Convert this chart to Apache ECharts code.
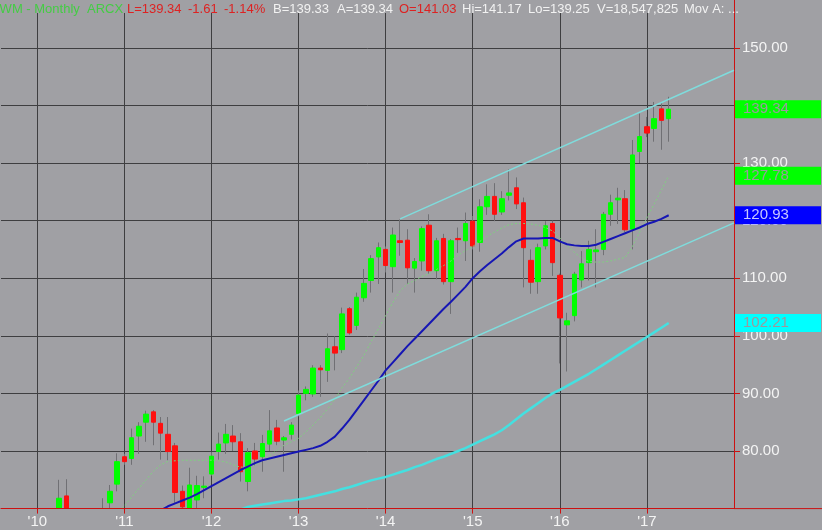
<!DOCTYPE html>
<html>
<head>
<meta charset="utf-8">
<script src="https://cdn.jsdelivr.net/npm/echarts@6/dist/echarts.min.js"></script>
<style>
    html, body { margin: 0; padding: 0; background: #a0a0a4; }
    #chart { width: 822px; height: 530px; }
</style>
</head>
<body>
<div id="chart"></div>
<script>
// Month categories of the time axis (monthly bars)
const axisMonths = [
    "2009-08", "2009-09", "2009-10", "2009-11", "2009-12",
    "2010-01", "2010-02", "2010-03", "2010-04", "2010-05", "2010-06", "2010-07", "2010-08", "2010-09", "2010-10", "2010-11", "2010-12",
    "2011-01", "2011-02", "2011-03", "2011-04", "2011-05", "2011-06", "2011-07", "2011-08", "2011-09", "2011-10", "2011-11", "2011-12",
    "2012-01", "2012-02", "2012-03", "2012-04", "2012-05", "2012-06", "2012-07", "2012-08", "2012-09", "2012-10", "2012-11", "2012-12",
    "2013-01", "2013-02", "2013-03", "2013-04", "2013-05", "2013-06", "2013-07", "2013-08", "2013-09", "2013-10", "2013-11", "2013-12",
    "2014-01", "2014-02", "2014-03", "2014-04", "2014-05", "2014-06", "2014-07", "2014-08", "2014-09", "2014-10", "2014-11", "2014-12",
    "2015-01", "2015-02", "2015-03", "2015-04", "2015-05", "2015-06", "2015-07", "2015-08", "2015-09", "2015-10", "2015-11", "2015-12",
    "2016-01", "2016-02", "2016-03", "2016-04", "2016-05", "2016-06", "2016-07", "2016-08", "2016-09", "2016-10", "2016-11", "2016-12",
    "2017-01", "2017-02", "2017-03", "2017-04", "2017-05", "2017-06", "2017-07", "2017-08", "2017-09", "2017-10", "2017-11", "2017-12",
    "2018-01"
];

// Monthly OHLC, first bar 2010-04
const candleStart = "2010-04";
const opens = [
    69.0, 72.2, 67.0, 62.5, 65.5, 60.5, 67.0, 71.0, 74.25,
    79.0, 78.7, 82.6, 85.0, 86.8, 84.8, 82.9, 80.9, 73.0, 69.5, 71.5, 73.7,
    76.0, 79.9, 81.4, 82.6, 81.6, 74.7, 80.0, 79.0, 81.2, 84.0, 81.9, 82.9,
    86.5, 90.0, 89.9, 94.4, 94.0, 98.1, 97.6, 104.7, 101.8, 106.6, 109.6, 113.7,
    115.0, 112.0, 116.5, 116.6, 111.75, 113.0, 119.2, 111.3, 116.9, 109.4, 116.9, 116.5,
    119.9, 116.2, 122.4, 124.2, 121.5, 124.4, 125.7, 123.1, 113.1, 109.4, 115.6, 119.5,
    110.5, 101.9, 103.5, 109.7, 112.7, 114.6, 115.0, 121.1, 123.6, 123.8, 118.5, 132.0,
    136.3, 136.0, 139.4, 137.7
];
const closes = [
    71.8, 67.0, 62.5, 65.5, 60.5, 67.0, 69.0, 73.0, 78.15,
    78.15, 82.3, 84.3, 86.4, 85.0, 83.1, 79.9, 72.8, 70.3, 74.1, 74.0, 73.9,
    79.1, 81.2, 82.9, 81.6, 76.4, 79.7, 78.6, 81.3, 83.5, 81.7, 82.3, 84.5,
    89.7, 90.7, 94.4, 94.1, 97.75, 97.0, 103.8, 100.5, 106.7, 109.1, 113.4, 115.3,
    112.2, 117.5, 116.2, 111.8, 112.9, 118.6, 111.3, 116.5, 109.4, 116.5, 116.7, 119.5,
    115.6, 122.4, 124.2, 121.1, 123.8, 124.8, 122.9, 115.3, 109.3, 115.3, 119.1, 112.7,
    103.1, 102.6, 110.7, 112.5, 115.0, 114.9, 121.1, 123.1, 123.9, 118.4, 131.4, 134.6,
    135.2, 137.7, 137.4, 139.34
];
const lows = [
    68.0, 65.5, 61.0, 60.5, 59.5, 60.0, 65.5, 69.5, 73.0,
    77.6, 77.6, 79.5, 81.6, 81.0, 78.5, 78.4, 71.0, 67.0, 67.0, 70.0, 71.8,
    75.7, 78.5, 79.5, 80.0, 74.7, 73.0, 77.5, 76.4, 80.0, 81.0, 76.4, 82.0,
    86.0, 88.8, 89.4, 89.4, 92.0, 94.0, 97.0, 100.2, 101.0, 105.9, 107.5, 109.0,
    111.0, 107.5, 113.9, 109.0, 107.5, 111.3, 110.8, 109.8, 108.9, 103.8, 114.4, 113.0,
    115.0, 114.6, 121.0, 119.9, 121.0, 123.5, 122.0, 108.4, 107.3, 107.3, 115.0, 110.4,
    95.2, 93.8, 102.5, 108.4, 109.6, 108.4, 114.0, 119.1, 119.4, 118.0, 115.0, 130.0,
    134.5, 133.7, 132.3, 133.7
];
const highs = [
    75.0, 75.1, 68.0, 67.0, 66.5, 68.5, 71.8, 74.1, 79.6,
    79.5, 83.9, 85.0, 87.0, 87.1, 85.9, 85.9, 81.4, 74.0, 77.1, 75.7, 75.6,
    79.8, 83.2, 84.7, 84.5, 83.1, 80.5, 81.4, 82.8, 87.1, 85.4, 82.6, 85.0,
    90.5, 91.2, 94.9, 94.9, 100.4, 99.9, 104.9, 105.0, 107.5, 111.6, 114.0, 116.2,
    115.5, 118.8, 120.2, 118.5, 113.5, 119.0, 121.1, 117.0, 117.7, 116.8, 118.8, 121.4,
    120.8, 123.7, 126.3, 126.5, 125.1, 128.9, 127.5, 124.0, 115.0, 116.0, 119.9, 120.0,
    110.8, 104.0, 111.1, 114.7, 116.5, 118.5, 121.5, 124.5, 125.7, 125.3, 134.0, 138.6,
    138.0, 140.6, 140.5, 141.5
];

// Moving averages
const greenStart = "2010-12";
const greenMA = [
    69.0,
    70.5, 72.0, 73.5, 75.0, 76.5, 77.6, 78.2, 78.3, 78.4, 78.4, 78.4, 78.4,
    78.4, 78.3, 78.1, 77.6, 77.2, 77.2, 77.6, 78.3, 79.2, 80.1, 81.0, 81.6,
    82.2, 83.3, 84.5, 85.8, 87.3, 89.0, 91.0, 92.6, 94.6, 96.6, 99.0, 101.2,
    103.5, 105.8, 107.8, 109.0, 109.6, 110.3, 110.8, 111.5, 112.2, 113.0, 114.0, 114.8,
    115.5, 116.4, 117.3, 118.0, 118.7, 119.3, 119.5, 119.5, 119.4, 119.2, 118.8, 118.2,
    117.0, 115.7, 114.5, 113.5, 112.9, 112.8, 112.8, 113.0, 113.3, 113.6, 115.5, 118.0,
    120.5, 122.9, 125.3, 127.78
];
const blueStart = "2011-06";
const blueMA = [
    69.7, 70.4, 70.9, 71.4, 71.9, 72.5, 73.2,
    73.9, 74.6, 75.3, 76.0, 76.7, 77.3, 77.9, 78.4, 78.7, 79.0, 79.3, 79.6,
    79.9, 80.2, 80.5, 80.9, 81.6, 82.5, 83.9, 85.4, 87.1, 88.8, 90.5, 92.2,
    94.0, 95.4, 96.8, 98.2, 99.5, 100.8, 102.1, 103.4, 104.7, 105.9, 107.2, 108.5,
    110.0, 111.2, 112.3, 113.3, 114.3, 115.4, 116.4, 116.9, 116.9, 116.9, 117.0, 117.0,
    116.4, 115.9, 115.7, 115.6, 115.6, 115.8, 116.3, 116.8, 117.3, 117.8, 118.3, 118.8,
    119.4, 119.8, 120.3, 120.93
];
const cyanStart = "2012-05";
const cyanMA = [
    69.8, 70.3, 70.5, 70.7, 70.9, 71.1, 71.3, 71.4,
    71.6, 71.8, 72.1, 72.4, 72.7, 73.0, 73.4, 73.7, 74.1, 74.5, 74.9, 75.2,
    75.5, 75.9, 76.3, 76.7, 77.2, 77.6, 78.1, 78.6, 79.0, 79.5, 80.0, 80.5,
    81.1, 81.7, 82.3, 82.9, 83.6, 84.5, 85.5, 86.5, 87.4, 88.3, 89.2, 90.0,
    90.6, 91.3, 92.0, 92.7, 93.4, 94.2, 95.0, 95.8, 96.6, 97.4, 98.2, 99.0,
    99.8, 100.6, 101.4, 102.21
];

// Trend channel end points
const upperChannel = [["2014-03", 120.3], ["2018-01", 146.1]];
const lowerChannel = [["2012-11", 85.2], ["2018-01", 119.6]];

const FONT = "Liberation Sans, Arial, sans-serif";
const BG = "#a0a0a4";
const AXIS_RED = "#cc1111";
const GRID = "#3e3e40";

function pairsFrom(start, values) {
    const off = axisMonths.indexOf(start);
    return values.map((v, k) => [axisMonths[off + k], v]);
}

const candleOff = axisMonths.indexOf(candleStart);
const wickData = opens.map((o, k) => [axisMonths[candleOff + k], o, closes[k], lows[k], highs[k]]);
const bodyData = opens.map((o, k) => [
    axisMonths[candleOff + k], o, closes[k], Math.min(o, closes[k]), Math.max(o, closes[k])
]);

// Price tag on the right axis
function priceTag(value, bg, fg) {
    return {
        silent: true,
        symbol: "none",
        animation: false,
        lineStyle: { width: 0, color: "rgba(0,0,0,0)" },
        label: {
            show: true,
            position: "end",
            distance: 1,
            formatter: value.toFixed(2),
            color: fg,
            backgroundColor: bg,
            fontFamily: FONT,
            fontSize: 15,
            lineHeight: 16,
            padding: [1, 0, 1, 8],
            width: 78,
            align: "left"
        },
        data: [{ yAxis: value }]
    };
}

const isJan = (i, v) => v.endsWith("-01") && i < axisMonths.length - 1;

const header = [
    [-4, "IWM - Monthly  ARCX", "#44cc44"],
    [127, "L=139.34", "#dd2222"],
    [188, "-1.61", "#dd2222"],
    [224, "-1.14%", "#dd2222"],
    [273, "B=139.33", "#f2f2f2"],
    [337, "A=139.34", "#f2f2f2"],
    [399, "O=141.03", "#dd2222"],
    [462, "Hi=141.17", "#f2f2f2"],
    [528, "Lo=139.25", "#f2f2f2"],
    [597, "V=18,547,825", "#f2f2f2"],
    [684, "Mov A: ...", "#f2f2f2"]
];

const chart = echarts.init(document.getElementById("chart"));
chart.setOption({
    backgroundColor: BG,
    animation: false,
    grid: { left: 1, right: 88, top: 0, bottom: 21.4 },
    xAxis: [
        {
            // grid lines only, kept under the bars
            type: "category",
            data: axisMonths,
            boundaryGap: false,
            axisLine: { show: false },
            axisTick: { show: false },
            axisLabel: { show: false },
            splitLine: { show: true, interval: isJan, lineStyle: { color: GRID, width: 1 } }
        },
        {
            // axis line, ticks and year labels, drawn over the bottom mask
            type: "category",
            data: axisMonths,
            boundaryGap: false,
            position: "bottom",
            z: 60,
            axisLine: { show: true, onZero: false, lineStyle: { color: AXIS_RED, width: 1 } },
            axisTick: { show: true, length: 5, interval: isJan, lineStyle: { color: AXIS_RED } },
            axisLabel: {
                interval: isJan,
                formatter: (v) => "'" + v.slice(2, 4),
                color: "#f4f4f4",
                fontSize: 15,
                fontFamily: FONT,
                margin: 6
            },
            splitLine: { show: false }
        }
    ],
    yAxis: {
        type: "value",
        position: "right",
        min: 70,
        max: 158.3,
        interval: 10,
        axisLine: { show: true, lineStyle: { color: AXIS_RED, width: 1 } },
        axisTick: { show: true, length: 6, lineStyle: { color: AXIS_RED } },
        axisLabel: {
            color: "#f4f4f4",
            fontSize: 15,
            fontFamily: FONT,
            margin: 8,
            showMinLabel: false,
            showMaxLabel: false,
            formatter: (v) => v.toFixed(2)
        },
        splitLine: { show: true, showMinLine: false, showMaxLine: false, lineStyle: { color: GRID, width: 1 } }
    },
    series: [
        {
            name: "wick",
            type: "candlestick",
            data: wickData,
            encode: { x: 0, y: [1, 2, 3, 4] },
            barWidth: 1,
            z: 2,
            itemStyle: { color: "#707074", color0: "#707074", borderColor: "#707074", borderColor0: "#707074", borderWidth: 1 }
        },
        {
            name: "body",
            type: "candlestick",
            data: bodyData,
            encode: { x: 0, y: [1, 2, 3, 4] },
            barWidth: 5,
            z: 3,
            itemStyle: { color: "#00ff00", color0: "#ff1010", borderColor: "#00ff00", borderColor0: "#ff1010", borderWidth: 1 },
            markLine: priceTag(closes[closes.length - 1], "#00ff00", "#9a9a9e")
        },
        {
            name: "green MA",
            type: "line",
            data: pairsFrom(greenStart, greenMA),
            symbol: "none",
            z: 4,
            lineStyle: { color: "#80d080", width: 1, type: [2, 2] },
            markLine: priceTag(greenMA[greenMA.length - 1], "#00ff00", "#9a9a9e")
        },
        {
            name: "blue MA",
            type: "line",
            data: pairsFrom(blueStart, blueMA),
            symbol: "none",
            z: 4,
            lineStyle: { color: "#1616b4", width: 2 },
            markLine: priceTag(blueMA[blueMA.length - 1], "#0000ff", "#c8c8ff")
        },
        {
            name: "cyan MA",
            type: "line",
            data: pairsFrom(cyanStart, cyanMA),
            symbol: "none",
            z: 4,
            lineStyle: { color: "#44e0e0", width: 2.5 },
            markLine: priceTag(cyanMA[cyanMA.length - 1], "#00ffff", "#9a9a9e")
        },
        {
            name: "upper channel",
            type: "line",
            data: upperChannel,
            symbol: "none",
            z: 4,
            lineStyle: { color: "#7fdcdc", width: 1.5 }
        },
        {
            name: "lower channel",
            type: "line",
            data: lowerChannel,
            symbol: "none",
            z: 4,
            lineStyle: { color: "#7fdcdc", width: 1.5 }
        }
    ],
    graphic: [
        // header strip hides grid lines behind the quote line
        { type: "rect", left: 0, top: 0, shape: { width: 733, height: 13 }, style: { fill: BG }, z: 50, silent: true },
        // mask under the price floor: bars below 70 are cut off here
        { type: "rect", left: 0, top: 509, shape: { width: 734, height: 21 }, style: { fill: BG }, z: 50, silent: true },
        // bottom axis line runs on under the price scale
        { type: "line", shape: { x1: 734, y1: 508.6, x2: 822, y2: 508.6 }, style: { stroke: AXIS_RED, lineWidth: 1 }, z: 50, silent: true }
    ].concat(header.map((h) => ({
        type: "text",
        x: h[0],
        y: 9,
        z: 51,
        silent: true,
        style: { text: h[1], fill: h[2], font: "13px " + FONT, textVerticalAlign: "middle" }
    })))
});
</script>
</body>
</html>
